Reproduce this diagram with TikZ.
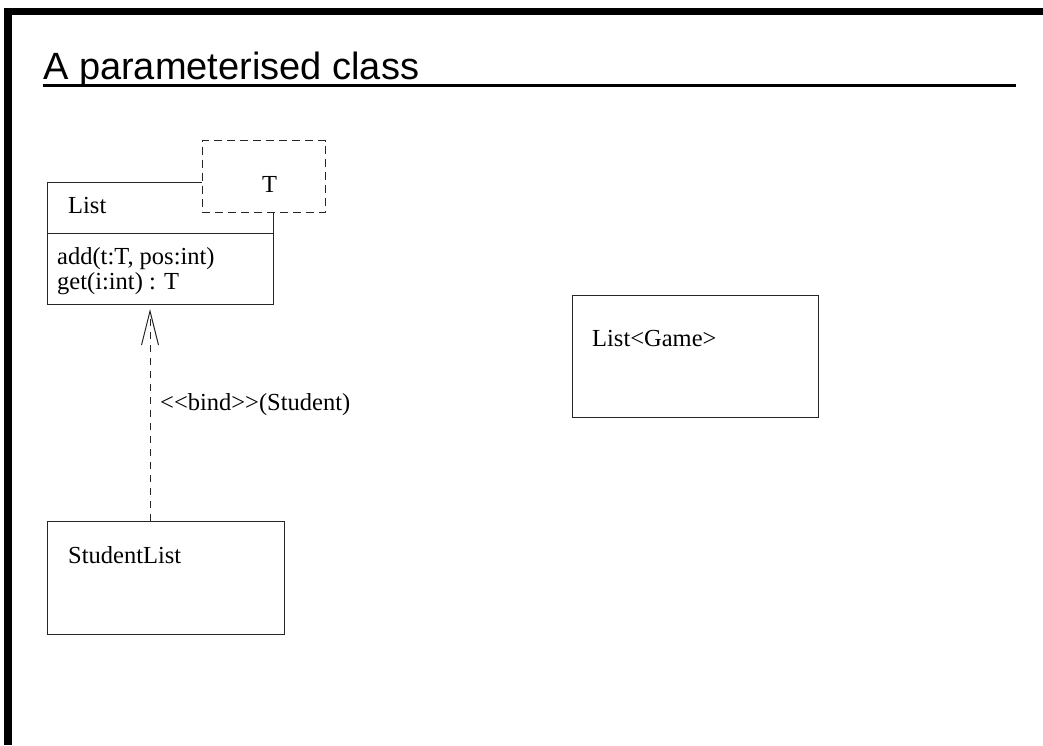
\documentclass[tikz,border=0pt]{standalone}
\usepackage{fontspec}
\usetikzlibrary{arrows.meta}
\newfontfamily\umlface{Liberation Serif}
\newfontfamily\headface{Liberation Sans}
\begin{document}
\begin{tikzpicture}[x=1pt,y=-1pt,
  umltext/.style={anchor=base west, inner sep=0pt, font=\umlface\fontsize{24.5}{29}\selectfont},
  classbox/.style={draw=black!85, line width=1pt, anchor=north west, inner sep=0pt},
  parambox/.style={classbox, fill=white, dash pattern=on 8pt off 5pt},
  bindarrow/.style={draw=black!85, line width=1pt, dash pattern=on 7pt off 6pt,
    -{Straight Barb[length=34pt,width=17pt,line width=1pt]}, shorten >=4pt}]
  \useasboundingbox (0,0) rectangle (1043,745);
  % slide frame
  \fill (4,8) rectangle (1043,15);
  \fill (4,8) rectangle (12,745);
  % heading and rule
  \node[anchor=base west, inner sep=0pt, font=\headface\fontsize{38}{45}\selectfont] (title) at (43,79) {A parameterised class};
  \draw[line width=3pt] (43,85.5) -- (1016,85.5);
  % parameterised class List with template parameter T
  \node[classbox, minimum width=226pt, minimum height=122pt] (listbox) at (47,182) {};
  \draw[black!85, line width=1pt] ([yshift=-51pt]listbox.north west) -- ([yshift=-51pt]listbox.north east);
  \node[parambox, minimum width=123.5pt, minimum height=72pt] (tbox) at (201.5,140) {};
  \node[umltext] (listname) at (68,213) {List};
  \node[umltext] (tparam) at (262,192) {T};
  \node[umltext] (opadd) at (57,264) {add(t:T, pos:int)};
  \node[umltext] (opget) at (57,289) {get(i:int) : T};
  % bound classes
  \node[classbox, minimum width=237pt, minimum height=113pt] (studentlist) at (47,521) {};
  \node[umltext] (studentname) at (68,563) {StudentList};
  \node[classbox, minimum width=246pt, minimum height=122pt] (listgame) at (572,295) {};
  \node[umltext] (gamename) at (592,346) {List<Game>};
  % bind dependency
  \draw[bindarrow] ([xshift=103pt]studentlist.north west) -- ([xshift=103pt]listbox.south west);
  \node[umltext] (bindlabel) at (160,410) {<\kern0pt<bind>\kern0pt>(Student)};
\end{tikzpicture}
\end{document}
